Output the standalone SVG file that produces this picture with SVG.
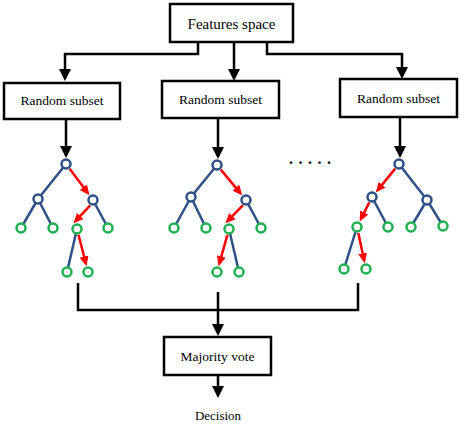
<svg xmlns="http://www.w3.org/2000/svg" width="464" height="426" viewBox="0 0 464 426">
<style>
.box{fill:#fff;stroke:#000;stroke-width:2.5}
.t{font-family:"Liberation Serif","Times New Roman",serif;fill:#000;text-anchor:middle}
.con{fill:none;stroke:#000;stroke-width:2.5}
.edge{stroke:#2d5186;stroke-width:2.5;fill:none}
.red{stroke:#ff0000;stroke-width:2.5;fill:none}
.in{fill:#fff;stroke:#2d5186;stroke-width:2.5}
.leaf{fill:#fff;stroke:#1fb050;stroke-width:2.5}
</style>
<defs>
<marker id="ab" markerUnits="userSpaceOnUse" markerWidth="12" markerHeight="12" refX="9" refY="6" orient="auto">
<path d="M0,0 L12,6 L0,12 Z" fill="#000"/>
</marker>
<marker id="ar" markerUnits="userSpaceOnUse" markerWidth="10" markerHeight="10" refX="7" refY="4.5" orient="auto">
<path d="M0,0 L10,4.5 L0,9 Z" fill="#ff0000"/>
</marker>
</defs>
<g id="connectors">
<path class="con" d="M198,42 V54 H65 V78" marker-end="url(#ab)"/>
<path class="con" d="M234,42 V78" marker-end="url(#ab)"/>
<path class="con" d="M267,42 V54 H402 V76" marker-end="url(#ab)"/>
<path class="con" d="M66,119 V155" marker-end="url(#ab)"/>
<path class="con" d="M218,118 V156" marker-end="url(#ab)"/>
<path class="con" d="M400,117 V155" marker-end="url(#ab)"/>
<path class="con" d="M78,283 V310 H358 V283"/>
<path class="con" d="M218,292 V333" marker-end="url(#ab)"/>
<path class="con" d="M218,375 V395" marker-end="url(#ab)"/>
</g>
<g id="features-space">
<rect class="box" x="170" y="4" width="123" height="38"/>
<text class="t" x="231.5" y="28.5" font-size="15">Features space</text>
</g>
<g id="subset-1">
<rect class="box" x="4" y="83" width="116" height="36"/>
<text class="t" x="62" y="105" font-size="13.5">Random subset</text>
</g>
<g id="subset-2">
<rect class="box" x="162" y="81" width="117" height="37"/>
<text class="t" x="220.5" y="104" font-size="13.5">Random subset</text>
</g>
<g id="subset-3">
<rect class="box" x="340" y="79" width="117" height="38"/>
<text class="t" x="398.5" y="103" font-size="13.5">Random subset</text>
</g>
<g id="tree-1">
<path class="edge" d="M66,164 L38,199 M38,199 L21,228 M38,199 L53,228 M93,200 L108,228 M77,229 L67,272"/>
<path class="red" d="M69.6,168.8 L87.6,192.8" marker-end="url(#ar)"/>
<path class="red" d="M90.1,205.3 L75.5,221.1" marker-end="url(#ar)"/>
<path class="red" d="M78.5,234.8 L85.8,263.3" marker-end="url(#ar)"/>
<circle class="in" cx="66" cy="164" r="4.5"/>
<circle class="in" cx="38" cy="199" r="4.5"/>
<circle class="in" cx="93" cy="200" r="4.5"/>
<circle class="leaf" cx="21" cy="228" r="4.5"/>
<circle class="leaf" cx="53" cy="228" r="4.5"/>
<circle class="leaf" cx="77" cy="229" r="4.5"/>
<circle class="leaf" cx="108" cy="228" r="4.5"/>
<circle class="leaf" cx="67" cy="272" r="4.5"/>
<circle class="leaf" cx="88" cy="272" r="4.5"/>
</g>
<g id="tree-2">
<path class="edge" d="M217,165 L191,197 M191,197 L174,228 M191,197 L206,228 M246,200 L261,228 M229,229 L239,272"/>
<path class="red" d="M220.8,169.6 L240.3,193.1" marker-end="url(#ar)"/>
<path class="red" d="M243,205.2 L227.5,221.2" marker-end="url(#ar)"/>
<path class="red" d="M227.4,234.8 L219.4,263.3" marker-end="url(#ar)"/>
<circle class="in" cx="217" cy="165" r="4.5"/>
<circle class="in" cx="191" cy="197" r="4.5"/>
<circle class="in" cx="246" cy="200" r="4.5"/>
<circle class="leaf" cx="174" cy="228" r="4.5"/>
<circle class="leaf" cx="206" cy="228" r="4.5"/>
<circle class="leaf" cx="229" cy="229" r="4.5"/>
<circle class="leaf" cx="261" cy="228" r="4.5"/>
<circle class="leaf" cx="217" cy="272" r="4.5"/>
<circle class="leaf" cx="239" cy="272" r="4.5"/>
</g>
<g id="tree-3">
<path class="edge" d="M399,164 L427,200 M372,197 L388,227 M427,200 L411,227 M427,200 L443,226 M357,227 L344,269"/>
<path class="red" d="M395.2,168.6 L377.7,190.1" marker-end="url(#ar)"/>
<path class="red" d="M369.3,202.4 L361,218.9" marker-end="url(#ar)"/>
<path class="red" d="M358.3,232.9 L364.1,260.2" marker-end="url(#ar)"/>
<circle class="in" cx="399" cy="164" r="4.5"/>
<circle class="in" cx="372" cy="197" r="4.5"/>
<circle class="in" cx="427" cy="200" r="4.5"/>
<circle class="leaf" cx="357" cy="227" r="4.5"/>
<circle class="leaf" cx="388" cy="227" r="4.5"/>
<circle class="leaf" cx="411" cy="227" r="4.5"/>
<circle class="leaf" cx="443" cy="226" r="4.5"/>
<circle class="leaf" cx="344" cy="269" r="4.5"/>
<circle class="leaf" cx="366" cy="269" r="4.5"/>
</g>
<g id="ellipsis">
<text x="289" y="164" font-family="Liberation Serif, serif" font-size="16" font-weight="bold" letter-spacing="5.5">.....</text>
</g>
<g id="majority-vote">
<rect class="box" x="164" y="337" width="107" height="38"/>
<text class="t" x="217.5" y="361" font-size="13.5">Majority vote</text>
</g>
<g id="decision">
<text class="t" x="218" y="420" font-size="13">Decision</text>
</g>
</svg>
